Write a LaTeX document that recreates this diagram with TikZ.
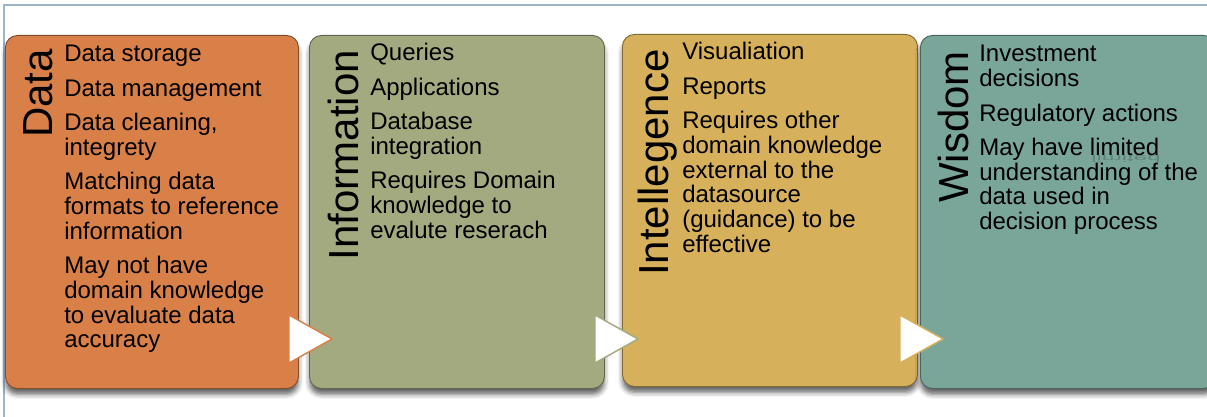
\documentclass[tikz,border=0pt]{standalone}
\usepackage{fontspec}
\setmainfont{Liberation Sans}
\usetikzlibrary{shadows.blur,calc}

\definecolor{datafill}{HTML}{D98048}
\definecolor{infofill}{HTML}{A3AA80}
\definecolor{intelfill}{HTML}{D6B05A}
\definecolor{wisdomfill}{HTML}{7AA69A}
\definecolor{framec}{HTML}{9DB4CC}

% stacked list of stage activities; first baseline is the anchor
\newcommand{\stagelist}[1]{\parbox[t]{240pt}{\raggedright #1}}
\newcommand{\gap}{\\[7.1pt]}

\tikzset{
  stagebox/.style={draw=#1!60!black, fill=#1, line width=0.7pt,
    rounded corners=9pt, anchor=north west, inner sep=0pt,
    blur shadow={shadow xshift=0pt, shadow yshift=-4.5pt,
      shadow blur radius=3.5pt, shadow opacity=60}},
  stagetitle/.style={rotate=90, anchor=base east, inner sep=0pt,
    font=\fontsize{31.5}{36}\selectfont},
  stagetext/.style={anchor=base west, inner sep=0pt,
    font=\fontsize{18}{18.6}\selectfont},
  flowtri/.style={draw=#1, fill=white, line width=1.1pt, line join=round},
}

\begin{document}
\begin{tikzpicture}[x=0.75pt, y=-0.75pt]
\useasboundingbox (0,0) rectangle (1207,417);

% page frame
\draw[framec, line width=1.1pt] (4,417) -- (4,5) -- (1207,5);

% stage panels
\node[stagebox=datafill, minimum width=293*0.75pt, minimum height=353*0.75pt] (data) at (5,35) {};
\node[stagebox=infofill, minimum width=295*0.75pt, minimum height=353*0.75pt] (info) at (309,35) {};
\node[stagebox=intelfill, minimum width=295*0.75pt, minimum height=352*0.75pt] (intel) at (622,34) {};
\node[stagebox=wisdomfill, minimum width=295*0.75pt, minimum height=353*0.75pt] (wisdom) at (920,35) {};

% flow triangles between panels
\coordinate (t1) at (289,339);
\coordinate (t2) at (595,339);
\coordinate (t3) at (900,339);
\draw[flowtri=datafill] ($(t1)+(0,-24)$) -- ($(t1)+(43,0)$) -- ($(t1)+(0,24)$) -- cycle;
\draw[flowtri=infofill] ($(t2)+(0,-24)$) -- ($(t2)+(43,0)$) -- ($(t2)+(0,24)$) -- cycle;
\draw[flowtri=intelfill] ($(t3)+(0,-24)$) -- ($(t3)+(43,0)$) -- ($(t3)+(0,24)$) -- cycle;

% rotated stage titles
\node[stagetitle] (datatitle) at (52,49) {Data};
\node[stagetitle] (infotitle) at (358,50) {Information};
\node[stagetitle] (inteltitle) at (668,49) {Intellegence};
\node[stagetitle] (wisdomtitle) at (968,51) {Wisdom};

% stage contents
\node[stagetext] (datatext) at (64,62) {\stagelist{%
  Data storage\gap
  Data management\gap
  Data cleaning,\\ integrety\gap
  Matching data\\ formats to reference\\ information\gap
  May not have\\ domain knowledge\\ to evaluate data\\ accuracy}};

\node[stagetext] (infotext) at (370,61) {\stagelist{%
  Queries\gap
  Applications\gap
  Database\\ integration\gap
  Requires Domain\\ knowledge to\\ evalute reserach}};

\node[stagetext] (inteltext) at (682,60) {\stagelist{%
  Visualiation\gap
  Reports\gap
  Requires other\\ domain knowledge\\ external to the\\ datasource\\ (guidance) to be\\ effective}};

\node[stagetext] (wisdomtext) at (979,62) {\stagelist{%
  Investment\\ decisions\gap
  Regulatory actions\gap
  May have limited\\ understanding of the\\ data used in\\ decision process}};

% faint reflection under "limited"
\node[anchor=base west, inner sep=0pt, yscale=-0.4, text opacity=0.2,
  font=\fontsize{18}{18.6}\selectfont] (ghost) at (1091,156) {limited};
\end{tikzpicture}
\end{document}
